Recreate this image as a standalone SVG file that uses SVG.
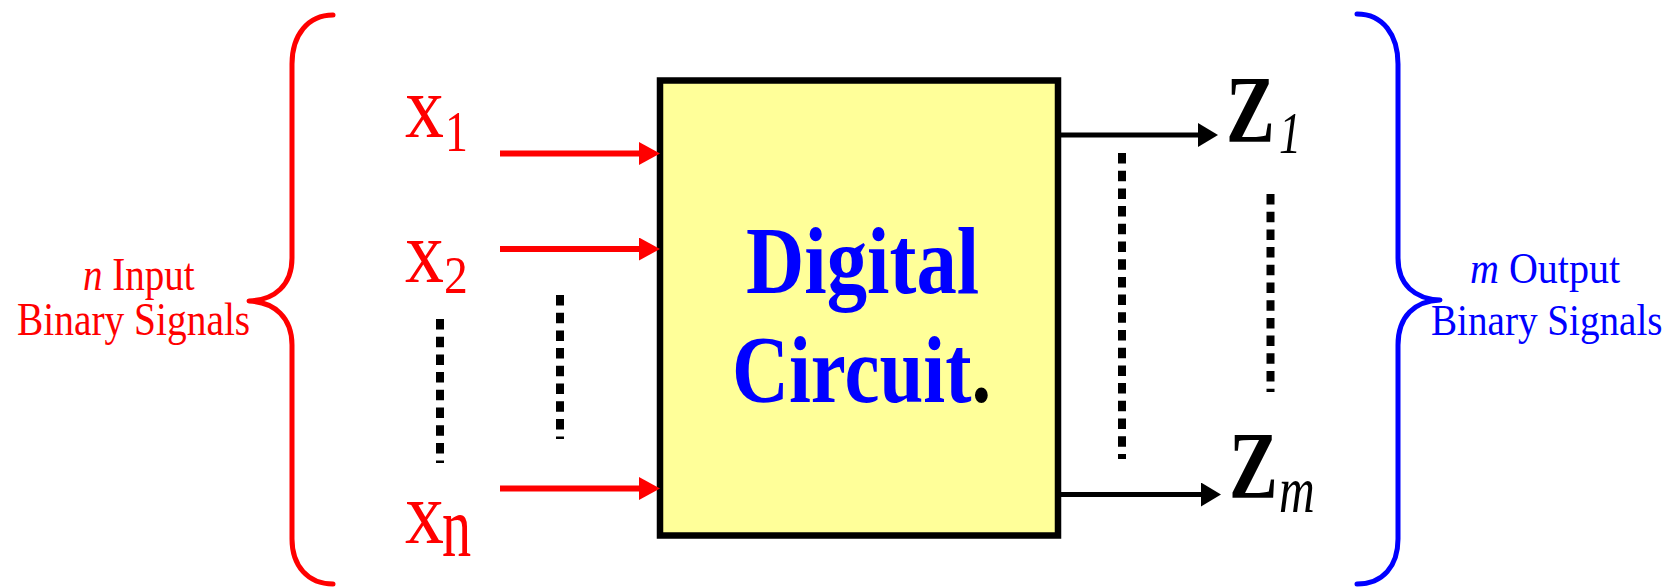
<svg xmlns="http://www.w3.org/2000/svg" width="1670" height="587" viewBox="0 0 1670 587">
<style>
  .brace { fill: none; stroke-width: 5; stroke-linecap: round; stroke-linejoin: round; }
  .dots { stroke: #000; stroke-width: 8; stroke-dasharray: 10.5 7.2; }
  .in { stroke: #ff0000; stroke-width: 6; }
  .out { stroke: #000; stroke-width: 5; }
</style>
<defs>
  <marker id="ahRed" markerUnits="userSpaceOnUse" markerWidth="21" markerHeight="23" refX="11" refY="11.5" orient="auto">
    <path d="M0,0 L21,11.5 L0,23 z" fill="#ff0000"/>
  </marker>
  <marker id="ahBlk" markerUnits="userSpaceOnUse" markerWidth="20" markerHeight="24" refX="10" refY="12" orient="auto">
    <path d="M0,0 L20,12 L0,24 z" fill="#000"/>
  </marker>
</defs>
<rect width="1670" height="587" fill="#ffffff"/>

<g id="input-brace">
  <path class="brace" stroke="#ff0000" d="M333,15 C308,15 292,35 292,64 L292,258 C292,285 275,300 249,301 C275,302 292,318 292,345 L292,539 C292,566 308,584 333,584"/>
  <text fill="#ff0000" font-family="Liberation Serif" font-size="47" transform="translate(83 290) scale(0.83 1)"><tspan font-style="italic">n</tspan> Input</text>
  <text fill="#ff0000" font-family="Liberation Serif" font-size="46" transform="translate(17 335) scale(0.857 1)">Binary Signals</text>
</g>

<g id="output-brace">
  <path class="brace" stroke="#0000ff" d="M1357,14 C1383,14 1398,35 1398,64 L1398,258 C1398,285 1415,299 1440,300 C1415,301 1398,316 1398,345 L1398,539 C1398,566 1383,584 1357,584"/>
  <text fill="#0000ff" font-family="Liberation Serif" font-size="45" transform="translate(1470 283) scale(0.89 1)"><tspan font-style="italic">m</tspan> Output</text>
  <text fill="#0000ff" font-family="Liberation Serif" font-size="45" transform="translate(1431 335) scale(0.87 1)">Binary Signals</text>
</g>

<g id="inputs">
  <g id="x1">
    <text fill="#ff0000" font-family="Liberation Serif" font-size="89" transform="translate(405 137) scale(0.876 1)">x</text>
    <text fill="#ff0000" font-family="Liberation Serif" font-size="58" transform="translate(445 151) scale(0.79 1)">1</text>
  </g>
  <g id="x2">
    <text fill="#ff0000" font-family="Liberation Serif" font-size="89" transform="translate(405 282) scale(0.876 1)">x</text>
    <text fill="#ff0000" font-family="Liberation Serif" font-size="53" transform="translate(444 293) scale(0.9 1)">2</text>
  </g>
  <g id="xn">
    <text fill="#ff0000" font-family="Liberation Serif" font-size="89" transform="translate(405 543) scale(0.876 1)">x</text>
    <text fill="#ff0000" font-family="Liberation Serif" font-size="87" transform="translate(442 556) scale(0.67 1)">n</text>
  </g>
</g>

<g id="digital-circuit">
  <rect x="660" y="80.5" width="398" height="455" fill="#ffff99" stroke="#000" stroke-width="6.5"/>
  <text fill="#0000ff" font-family="Liberation Serif" font-weight="bold" font-size="95" transform="translate(746 293) scale(0.85 1)">Digital</text>
  <text fill="#0000ff" font-family="Liberation Serif" font-weight="bold" font-size="95" transform="translate(732 402) scale(0.83 1)">Circuit<tspan fill="#000000">.</tspan></text>
</g>

<g id="outputs">
  <g id="z1">
    <text fill="#000000" font-family="Liberation Serif" font-weight="bold" font-size="95" transform="translate(1226 142) scale(0.77 1)">Z</text>
    <text fill="#000000" font-family="Liberation Serif" font-style="italic" font-size="59" transform="translate(1279 153) scale(0.75 1)">1</text>
  </g>
  <g id="zm">
    <text fill="#000000" font-family="Liberation Serif" font-weight="bold" font-size="95" transform="translate(1229 498) scale(0.77 1)">Z</text>
    <text fill="#000000" font-family="Liberation Serif" font-style="italic" font-size="66" transform="translate(1279 512) scale(0.75 1)">m</text>
  </g>
</g>

<g id="connectors">
  <line class="in" x1="500" y1="153.5" x2="650" y2="153.5" marker-end="url(#ahRed)"/>
  <line class="in" x1="500" y1="249" x2="650" y2="249" marker-end="url(#ahRed)"/>
  <line class="in" x1="500" y1="488.5" x2="650" y2="488.5" marker-end="url(#ahRed)"/>
  <line class="out" x1="1061" y1="135" x2="1208" y2="135" marker-end="url(#ahBlk)"/>
  <line class="out" x1="1061" y1="494.5" x2="1211" y2="494.5" marker-end="url(#ahBlk)"/>
  <line class="dots" x1="440" y1="319" x2="440" y2="463"/>
  <line class="dots" x1="560" y1="295" x2="560" y2="439"/>
  <line class="dots" x1="1122" y1="153" x2="1122" y2="459"/>
  <line class="dots" x1="1270.5" y1="194" x2="1270.5" y2="392"/>
</g>
</svg>
